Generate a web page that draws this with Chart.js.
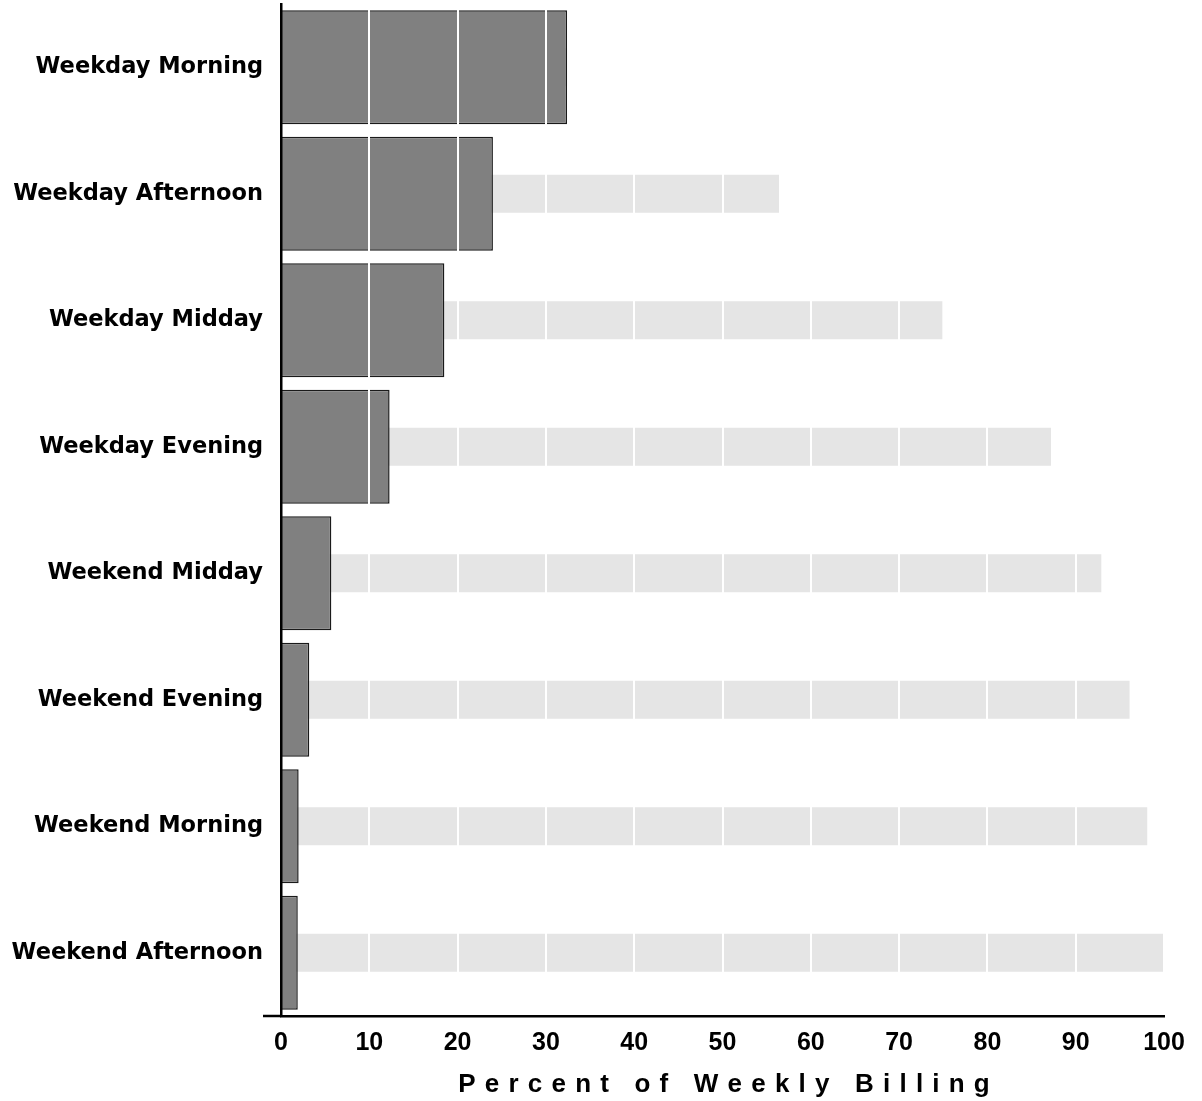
<!DOCTYPE html>
<html>
<head>
<meta charset="utf-8">
<script src="https://cdn.jsdelivr.net/npm/chart.js@4"></script>
<style>
  body { margin: 0; background: #fff; }
  canvas { display: block; }
</style>
</head>
<body>
<canvas id="chart" width="1202" height="1101"></canvas>
<script>
const categories = ['Weekday Morning', 'Weekday Afternoon', 'Weekday Midday', 'Weekday Evening',
  'Weekend Midday', 'Weekend Evening', 'Weekend Morning', 'Weekend Afternoon'];
const share = [32.4, 24.0, 18.5, 12.3, 5.7, 3.2, 2.0, 1.9];
const cumulative = [32.4, 56.4, 74.9, 87.2, 92.9, 96.1, 98.1, 100];
const xTitle = 'Percent of Weekly Billing';

const sans = "'Liberation Sans', Arial, sans-serif";

// x title with wide letter spacing, axis line running a bit past the y axis
const extras = {
  id: 'extras',
  afterDraw(chart) {
    const ctx = chart.ctx;
    const area = chart.chartArea;
    const y0 = chart.scales.x.top;
    ctx.save();
    ctx.strokeStyle = '#000';
    ctx.lineWidth = 2.5;
    ctx.beginPath();
    ctx.moveTo(263, y0);
    ctx.lineTo(area.left, y0);
    ctx.stroke();

    ctx.font = 'bold 26px ' + sans;
    ctx.fillStyle = '#000';
    ctx.textBaseline = 'alphabetic';
    ctx.textAlign = 'left';
    const spacing = 9.2;
    const chars = [...xTitle];
    const widths = chars.map(c => ctx.measureText(c).width);
    const total = widths.reduce((a, b) => a + b, 0) + spacing * (chars.length - 1);
    let x = (area.left + area.right) / 2 + 1.5 - total / 2;
    chars.forEach((c, i) => {
      ctx.fillText(c, x, 1092);
      x += widths[i] + spacing;
    });
    ctx.restore();
  }
};

new Chart(document.getElementById('chart'), {
  type: 'bar',
  data: {
    labels: categories,
    datasets: [{
      label: 'Share',
      data: share,
      backgroundColor: '#808080',
      borderColor: '#1a1a1a',
      borderWidth: 1.5,
      barPercentage: 0.9,
      categoryPercentage: 1,
      grouped: false,
      order: 0
    }, {
      label: 'Cumulative',
      data: cumulative,
      backgroundColor: '#e5e5e5',
      borderWidth: 0,
      barPercentage: 0.3,
      categoryPercentage: 1,
      grouped: false,
      order: 1
    }]
  },
  options: {
    indexAxis: 'y',
    responsive: false,
    animation: false,
    devicePixelRatio: 1,
    layout: { padding: { top: 4, right: 38, bottom: 0, left: 0 } },
    plugins: {
      legend: { display: false },
      tooltip: { enabled: false }
    },
    scales: {
      x: {
        min: 0,
        max: 100,
        ticks: {
          stepSize: 10,
          color: '#000',
          padding: 12,
          maxRotation: 0,
          font: { family: sans, size: 25, weight: 'bold' }
        },
        // white grid lines drawn over the bars
        grid: { color: '#fff', lineWidth: 2, drawTicks: false, z: 1 },
        border: { display: true, color: '#000', width: 2.5, z: 2 },
        afterFit(scale) { scale.height = 85; }
      },
      y: {
        ticks: {
          color: '#000',
          padding: 18,
          font: { family: "'DejaVu Sans', sans-serif", size: 22.5, weight: 'bold' }
        },
        grid: { display: false, drawTicks: false },
        border: { display: true, color: '#000', width: 2.5, z: 2 },
        afterFit(scale) {
          scale.width = 281;
          scale.paddingTop = 0;
          scale.paddingBottom = 0;
        }
      }
    }
  },
  plugins: [extras]
});
</script>
</body>
</html>
